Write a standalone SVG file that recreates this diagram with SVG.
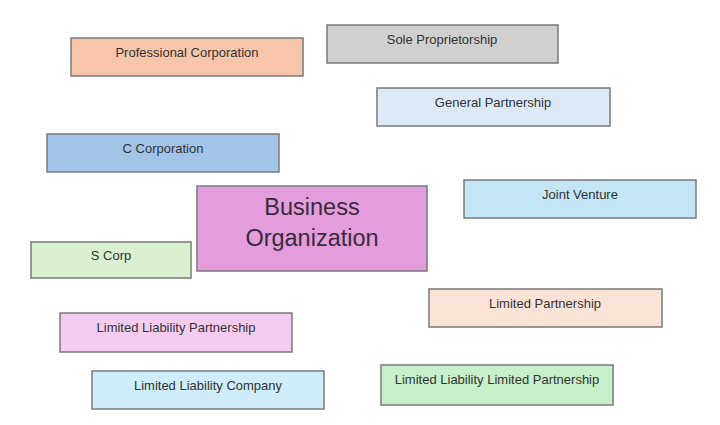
<svg xmlns="http://www.w3.org/2000/svg" width="720" height="425" viewBox="0 0 720 425">
<style>
.box{stroke:#7a7a7a;stroke-width:1.5}
.t{font-family:"Liberation Sans","Open Sans",Arial,sans-serif;font-size:13px;fill:#333333;text-anchor:middle}
.big{font-family:"Liberation Sans","Open Sans",Arial,sans-serif;font-size:23.5px;fill:#3a2a3a;text-anchor:middle}
</style>
<rect width="720" height="425" fill="#ffffff"/>
<g id="connectors"/>
<g id="professional-corporation"><rect class="box" x="71" y="38" width="232" height="38" fill="#F6C5AA"/><text class="t" x="187" y="56.5">Professional Corporation</text></g>
<g id="sole-proprietorship"><rect class="box" x="327" y="25" width="231" height="38" fill="#D0D0D0"/><text class="t" x="442" y="43.5">Sole Proprietorship</text></g>
<g id="general-partnership"><rect class="box" x="377" y="88" width="233" height="38" fill="#DEE9F7"/><text class="t" x="493" y="106.5">General Partnership</text></g>
<g id="c-corporation"><rect class="box" x="47" y="134" width="232" height="38" fill="#A3C4E9"/><text class="t" x="163" y="152.5">C Corporation</text></g>
<g id="joint-venture"><rect class="box" x="464" y="180" width="232" height="38" fill="#C4E5F6"/><text class="t" x="580" y="198.5">Joint Venture</text></g>
<g id="business-organization"><rect class="box" x="197" y="186" width="230" height="85" fill="#E49DDC"/><text class="big" x="312" y="215">Business</text><text class="big" x="312" y="246">Organization</text></g>
<g id="s-corp"><rect class="box" x="31" y="242" width="160" height="36" fill="#D9F1D0"/><text class="t" x="111" y="259.5">S Corp</text></g>
<g id="limited-partnership"><rect class="box" x="429" y="289" width="233" height="38" fill="#FBE3D7"/><text class="t" x="545" y="307.5">Limited Partnership</text></g>
<g id="limited-liability-partnership"><rect class="box" x="60" y="313" width="232" height="39" fill="#F3CCF0"/><text class="t" x="176" y="331.5">Limited Liability Partnership</text></g>
<g id="limited-liability-limited-partnership"><rect class="box" x="381" y="365" width="232" height="40" fill="#C7EFC9"/><text class="t" x="497" y="383.5">Limited Liability Limited Partnership</text></g>
<g id="limited-liability-company"><rect class="box" x="92" y="371" width="232" height="38" fill="#CEECF9"/><text class="t" x="208" y="389.5">Limited Liability Company</text></g>
</svg>
